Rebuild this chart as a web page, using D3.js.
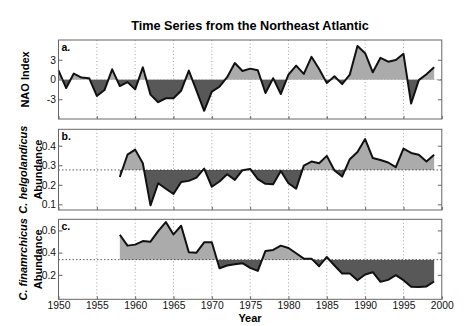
<!DOCTYPE html>
<html><head><meta charset="utf-8">
<script src="https://cdn.jsdelivr.net/npm/d3@7"></script>
<style>body{margin:0;background:#fff;} text{font-family:"Liberation Sans",Arial,sans-serif;}</style>
</head><body>
<svg id="chart" width="474" height="326"></svg>
<script>
const naoYears = d3.range(1950, 2000);
const naoValues = [1.4,-1.3,0.9,0.3,0.2,-2.5,-1.6,1.55,-1.0,-0.4,-1.5,1.85,-2.3,-3.45,-2.85,-2.85,-1.7,1.35,-1.7,-4.75,-1.85,-1.1,0.35,2.5,1.3,1.65,1.4,-2.05,0.2,-2.2,0.75,2.1,0.85,3.45,1.6,-0.55,0.5,-0.7,0.75,5.1,4.0,1.1,3.3,2.7,2.95,3.9,-3.65,-0.1,0.8,1.85];
const bioYears = d3.range(1958, 2000);
const helgoValues = [0.24,0.354,0.38,0.31,0.095,0.208,0.18,0.153,0.214,0.22,0.237,0.283,0.19,0.217,0.254,0.225,0.275,0.281,0.229,0.205,0.203,0.271,0.208,0.18,0.298,0.319,0.31,0.348,0.273,0.242,0.331,0.368,0.434,0.337,0.327,0.314,0.29,0.385,0.363,0.354,0.319,0.354];
const finValues = [0.561,0.463,0.472,0.504,0.499,0.594,0.675,0.564,0.642,0.403,0.4,0.493,0.493,0.26,0.284,0.296,0.305,0.263,0.236,0.415,0.424,0.463,0.442,0.394,0.346,0.346,0.278,0.361,0.284,0.212,0.212,0.152,0.203,0.224,0.137,0.155,0.197,0.152,0.093,0.09,0.096,0.14];
const xTicks = [1950,1955,1960,1965,1970,1975,1980,1985,1990,1995,2000];
const intFmt = d => (d < 0 ? "-" + Math.abs(d) : String(d));
const panels = [
  {label:"a.", years:naoYears, values:naoValues, domain:[-6,6], ticks:[-3,0,3], fmt:intFmt, ref:0, top:40, bottom:119},
  {label:"b.", years:bioYears, values:helgoValues, domain:[0.071,0.484], ticks:[0.1,0.2,0.3,0.4], fmt:d3.format(".1f"), ref:0.276, top:129.3, bottom:210},
  {label:"c.", years:bioYears, values:finValues, domain:[-0.02,0.7], ticks:[0.2,0.4,0.6], fmt:d3.format(".1f"), ref:0.337, top:219.3, bottom:299.3}
];
const yLabels = [["NAO Index"],["C. helgolandicus","Abundance"],["C. finamrchicus","Abundance"]];

const svg = d3.select("#chart");
const x = d3.scaleLinear().domain([1950,2000]).range([58.5,441.8]);
const light = "#ababab", dark = "#585858", border = "#666";
const FF = "Liberation Sans, Arial, sans-serif";

svg.append("text").attr("x",250).attr("y",30).attr("text-anchor","middle")
  .attr("font-size",12.7).attr("font-weight","bold").text("Time Series from the Northeast Atlantic");

panels.forEach((p,i) => {
  const y = d3.scaleLinear().domain(p.domain).range([p.bottom,p.top]);
  const g = svg.append("g");
  const data = p.years.map((yr,k)=>({yr, v:p.values[k]}));
  const yRef = y(p.ref);
  const cidA = "clipA"+i, cidB = "clipB"+i;
  const defs = svg.append("defs");
  defs.append("clipPath").attr("id",cidA).append("rect")
    .attr("x",x(1950)).attr("y",p.top).attr("width",x(2000)-x(1950)).attr("height",yRef-p.top);
  defs.append("clipPath").attr("id",cidB).append("rect")
    .attr("x",x(1950)).attr("y",yRef).attr("width",x(2000)-x(1950)).attr("height",p.bottom-yRef);
  g.selectAll("line.grid").data(xTicks.slice(1,-1)).join("line")
    .attr("x1",d=>x(d)).attr("x2",d=>x(d)).attr("y1",p.top).attr("y2",p.bottom)
    .attr("stroke","#888").attr("stroke-width",0.8).attr("stroke-dasharray","1,2.5");
  const area = d3.area().x(d=>x(d.yr)).y0(yRef).y1(d=>y(d.v));
  g.append("path").datum(data).attr("d",area).attr("fill",light).attr("clip-path",`url(#${cidA})`);
  g.append("path").datum(data).attr("d",area).attr("fill",dark).attr("clip-path",`url(#${cidB})`);
  g.append("line").attr("x1",x(1950)).attr("x2",x(2000)).attr("y1",yRef).attr("y2",yRef)
    .attr("stroke", i===0 ? "#aaa" : "#333").attr("stroke-width",0.8).attr("stroke-dasharray","1.5,2");
  g.append("path").datum(data).attr("d",d3.line().x(d=>x(d.yr)).y(d=>y(d.v)))
    .attr("fill","none").attr("stroke","#111").attr("stroke-width",2).attr("stroke-linejoin","round");
  g.append("rect").attr("x",x(1950)).attr("y",p.top).attr("width",x(2000)-x(1950)).attr("height",p.bottom-p.top)
    .attr("fill","none").attr("stroke",border).attr("stroke-width",1);
  const ya = g.append("g").attr("transform",`translate(${x(1950)},0)`)
    .call(d3.axisLeft(y).tickValues(p.ticks).tickFormat(p.fmt).tickSize(-4).tickPadding(2.5));
  ya.select(".domain").remove();
  ya.selectAll("line").attr("stroke",border);
  ya.selectAll("text").attr("font-size",10.3).attr("fill","#111").attr("font-family",FF);
  const yr = g.append("g").attr("transform",`translate(${x(2000)},0)`)
    .call(d3.axisRight(y).tickValues(p.ticks).tickFormat("").tickSize(-4));
  yr.select(".domain").remove();
  yr.selectAll("line").attr("stroke",border);
  const xa = g.append("g").attr("transform",`translate(0,${p.bottom})`)
    .call(d3.axisBottom(x).tickValues(xTicks).tickFormat(i===2 ? d3.format("d") : "").tickSize(-3).tickPadding(2.5));
  xa.select(".domain").remove();
  xa.selectAll("line").attr("stroke",border);
  xa.selectAll("text").attr("font-size",10.3).attr("fill","#111").attr("font-family",FF);
  g.append("text").attr("x",x(1950)+3).attr("y",p.top+11).attr("font-size",10.5).attr("font-weight","bold").text(p.label);
  const cy = (p.top+p.bottom)/2;
  const lab = yLabels[i];
  if (lab.length===1) {
    g.append("text").attr("transform",`translate(29,${cy}) rotate(-90)`).attr("text-anchor","middle")
      .attr("font-size",11).attr("font-weight","bold").text(lab[0]);
  } else {
    g.append("text").attr("transform",`translate(26.5,${cy}) rotate(-90)`).attr("text-anchor","middle")
      .attr("font-size",11).attr("font-weight","bold").attr("font-style","italic").text(lab[0]);
    g.append("text").attr("transform",`translate(42,${cy}) rotate(-90)`).attr("text-anchor","middle")
      .attr("font-size",11).attr("font-weight","bold").text(lab[1]);
  }
});
svg.append("text").attr("x",250).attr("y",321.5).attr("text-anchor","middle")
  .attr("font-size",11).attr("font-weight","bold").text("Year");
</script>
</body></html>
